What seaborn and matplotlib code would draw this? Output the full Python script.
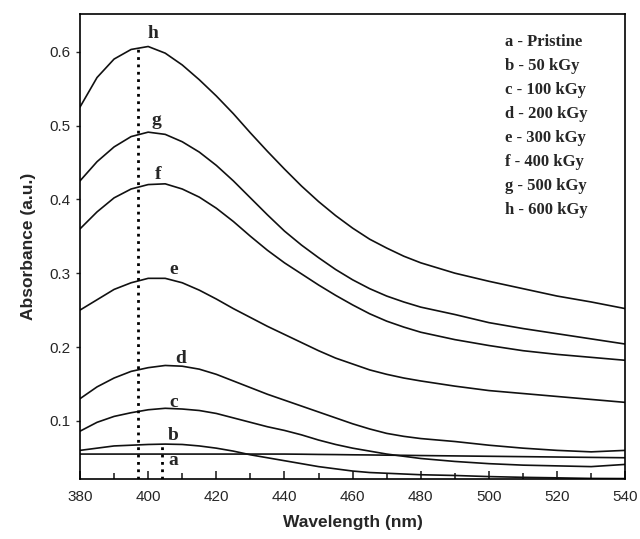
import numpy as np; import pandas as pd; import matplotlib.pyplot as plt; import seaborn as sns

wavelength = [380, 385, 390, 395, 400, 405, 410, 415, 420, 425, 430, 435, 440, 445,
              450, 455, 460, 465, 470, 475, 480, 490, 500, 510, 520, 530, 540]

abs_a = [0.055, 0.055, 0.055, 0.055, 0.055, 0.055, 0.055, 0.055, 0.055, 0.055, 0.055, 0.055, 0.055, 0.0548,
         0.0545, 0.0543, 0.054, 0.0538, 0.0535, 0.0533, 0.053, 0.0525, 0.052, 0.0515, 0.051, 0.0505, 0.050]
abs_b = [0.060, 0.063, 0.066, 0.067, 0.068, 0.0685, 0.068, 0.066, 0.063, 0.059, 0.054, 0.050, 0.046, 0.042,
         0.038, 0.035, 0.032, 0.030, 0.029, 0.028, 0.027, 0.026, 0.0245, 0.0235, 0.0228, 0.022, 0.0218]
abs_c = [0.086, 0.098, 0.106, 0.111, 0.115, 0.117, 0.116, 0.114, 0.110, 0.104, 0.098, 0.092, 0.087, 0.081,
         0.074, 0.068, 0.063, 0.059, 0.055, 0.052, 0.049, 0.045, 0.042, 0.040, 0.039, 0.038, 0.041]
abs_d = [0.130, 0.146, 0.158, 0.167, 0.172, 0.175, 0.174, 0.170, 0.163, 0.154, 0.145, 0.136, 0.128, 0.120,
         0.112, 0.104, 0.096, 0.089, 0.083, 0.079, 0.076, 0.072, 0.067, 0.063, 0.060, 0.058, 0.060]
abs_e = [0.250, 0.264, 0.278, 0.287, 0.293, 0.293, 0.287, 0.277, 0.265, 0.252, 0.240, 0.228, 0.217, 0.206,
         0.195, 0.185, 0.177, 0.169, 0.163, 0.158, 0.154, 0.147, 0.141, 0.137, 0.133, 0.129, 0.125]
abs_f = [0.360, 0.383, 0.402, 0.414, 0.420, 0.421, 0.414, 0.403, 0.388, 0.370, 0.350, 0.331, 0.314, 0.299,
         0.284, 0.270, 0.257, 0.245, 0.235, 0.227, 0.220, 0.210, 0.202, 0.195, 0.190, 0.186, 0.182]
abs_g = [0.425, 0.451, 0.471, 0.485, 0.491, 0.488, 0.478, 0.464, 0.446, 0.425, 0.402, 0.379, 0.357, 0.338,
         0.321, 0.305, 0.291, 0.279, 0.269, 0.261, 0.254, 0.244, 0.233, 0.225, 0.218, 0.211, 0.204]
abs_h = [0.525, 0.565, 0.590, 0.603, 0.607, 0.598, 0.582, 0.562, 0.540, 0.516, 0.490, 0.465, 0.441, 0.418,
         0.397, 0.378, 0.361, 0.346, 0.334, 0.323, 0.314, 0.300, 0.289, 0.279, 0.269, 0.261, 0.252]

samples = ['a', 'b', 'c', 'd', 'e', 'f', 'g', 'h']
doses = ['Pristine', '50 kGy', '100 kGy', '200 kGy', '300 kGy', '400 kGy', '500 kGy', '600 kGy']
label_x = [407.4, 407.4, 407.4, 409.4, 407.4, 403.0, 402.5, 401.4]
label_y = [0.046, 0.080, 0.125, 0.184, 0.305, 0.433, 0.507, 0.625]

df = pd.DataFrame({
    'Wavelength': wavelength * len(samples),
    'Absorbance': abs_a + abs_b + abs_c + abs_d + abs_e + abs_f + abs_g + abs_h,
    'sample': np.repeat(samples, len(wavelength)),
})

sns.set_style('ticks')
plt.rcParams['font.family'] = ['Liberation Sans', 'DejaVu Sans']

fig, ax = plt.subplots(figsize=(6.4, 5.39), dpi=100)
fig.subplots_adjust(left=0.125, right=0.977, top=0.974, bottom=0.111)

sns.lineplot(data=df, x='Wavelength', y='Absorbance', hue='sample', palette=['#111111'] * 8,
             legend=False, linewidth=1.2, ax=ax, solid_joinstyle='round')

# dotted guide lines
ax.plot([397, 397], [0.021, 0.607], linestyle=':', color='black', linewidth=2)
ax.plot([404, 404], [0.021, 0.069], linestyle=':', color='black', linewidth=2)

for s, x, y in zip(samples, label_x, label_y):
    ax.text(x, y, s, ha='center', va='center', fontsize=14, fontweight='bold', family='Liberation Serif')

for i, (s, d) in enumerate(zip(samples, doses)):
    ax.text(0.78, 0.94 - i * 0.0516, f'{s} - {d}', transform=ax.transAxes, ha='left', va='center',
            fontsize=12, fontweight='bold', family='Liberation Serif')

ax.set_xlim(380, 540)
ax.set_ylim(0.021, 0.651)
ax.set_xticks(range(380, 541, 20))
ax.set_xticks(range(390, 540, 20), minor=True)
ax.set_yticks([0.1, 0.2, 0.3, 0.4, 0.5, 0.6])
ax.tick_params(axis='x', which='major', direction='in', length=6, width=1.2, labelsize=11, pad=8)
ax.tick_params(axis='x', which='minor', direction='in', length=4, width=1.2)
ax.tick_params(axis='y', direction='out', length=3, width=1, labelsize=11)
for sp in ax.spines.values():
    sp.set_linewidth(1.2)
    sp.set_color('black')

ax.set_xlabel('Wavelength (nm)', fontsize=12.5, fontweight='bold', labelpad=8)
ax.set_ylabel('Absorbance (a.u.)', fontsize=12.5, fontweight='bold', labelpad=10)

plt.savefig('out.png', dpi=100)
